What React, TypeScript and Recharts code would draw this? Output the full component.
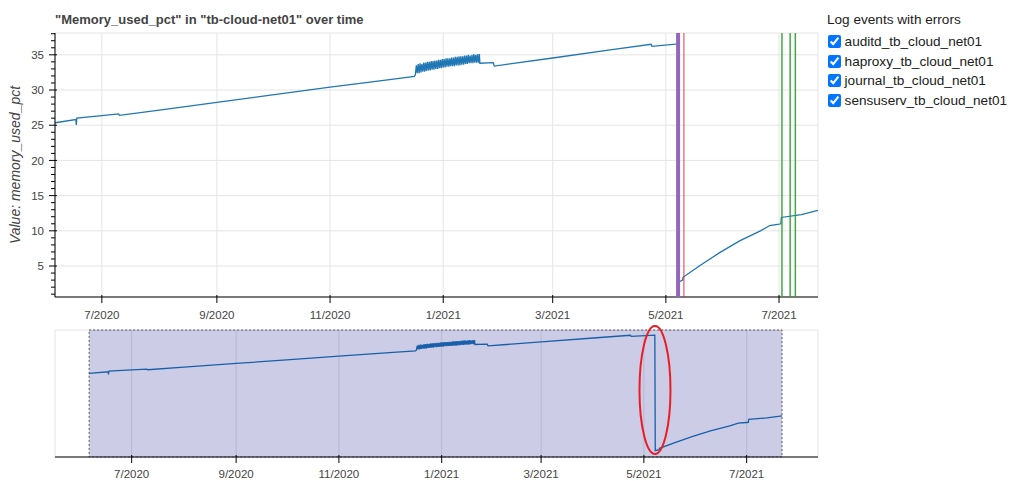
import {
  LineChart, Line, XAxis, YAxis, CartesianGrid, ReferenceLine, ReferenceArea, ReferenceDot,
} from 'recharts'

// ==================== Data ====================

const HOST = 'tb-cloud-net01'
const METRIC = 'Memory_used_pct'

// memory_used_pct readings up to the noisy stretch around new year
const beforeBand: Array<[string, number]> = [
  ['2020-06-05T18', 25.35],
  ['2020-06-17T00', 25.8],
  ['2020-06-17T06', 25.05],
  ['2020-06-17T12', 26.0],
  ['2020-07-01T00', 26.35],
  ['2020-07-10T00', 26.6],
  ['2020-07-10T12', 26.4],
  ['2020-08-01T00', 27.15],
  ['2020-09-01T00', 28.25],
  ['2020-10-01T00', 29.3],
  ['2020-11-01T00', 30.4],
  ['2020-12-01T00', 31.4],
  ['2020-12-16T12', 31.95],
]

// the oscillating part: one low (00h) and one high (12h) reading per day
const bandDays = [
  '2020-12-17', '2020-12-18', '2020-12-19', '2020-12-20', '2020-12-21', '2020-12-22', '2020-12-23',
  '2020-12-24', '2020-12-25', '2020-12-26', '2020-12-27', '2020-12-28', '2020-12-29', '2020-12-30',
  '2020-12-31', '2021-01-01', '2021-01-02', '2021-01-03', '2021-01-04', '2021-01-05', '2021-01-06',
  '2021-01-07', '2021-01-08', '2021-01-09', '2021-01-10', '2021-01-11', '2021-01-12', '2021-01-13',
  '2021-01-14', '2021-01-15', '2021-01-16', '2021-01-17', '2021-01-18', '2021-01-19', '2021-01-20',
]
const bandLow = [
  32.2, 32.4, 32.4, 32.5, 32.6, 32.6, 32.7, 32.8, 32.8, 32.9, 32.9, 33.0, 33.0, 33.1, 33.1, 33.2, 33.2,
  33.3, 33.3, 33.4, 33.4, 33.4, 33.5, 33.5, 33.5, 33.6, 33.6, 33.7, 33.7, 33.8, 33.8, 33.8, 33.9, 33.9, 33.9,
]
const bandHigh = [
  33.5, 33.7, 33.8, 33.7, 33.9, 33.9, 34.0, 34.0, 34.1, 34.1, 34.2, 34.2, 34.3, 34.3, 34.4, 34.4, 34.5,
  34.5, 34.5, 34.6, 34.6, 34.7, 34.7, 34.8, 34.8, 34.8, 34.9, 34.9, 35.0, 34.9, 35.0, 35.1, 35.0, 35.1, 35.1,
]

// after the band, through the reboot drop in May, to the end
const afterBand: Array<[string, number]> = [
  ['2021-01-20T18', 33.8],
  ['2021-01-28T00', 33.9],
  ['2021-01-28T12', 33.4],
  ['2021-03-01T00', 34.55],
  ['2021-04-01T00', 35.7],
  ['2021-04-23T00', 36.5],
  ['2021-04-23T12', 36.2],
  ['2021-05-07T12', 36.55],
  ['2021-05-07T18', 2.7],
  ['2021-05-10T00', 3.0],
  ['2021-05-10T06', 3.4],
  ['2021-05-19T00', 5.0],
  ['2021-05-30T00', 6.9],
  ['2021-06-10T00', 8.6],
  ['2021-06-21T00', 10.0],
  ['2021-06-26T00', 10.75],
  ['2021-07-01T00', 10.95],
  ['2021-07-02T00', 11.0],
  ['2021-07-02T06', 11.9],
  ['2021-07-13T00', 12.3],
  ['2021-07-22T00', 12.9],
]

// error events per log source
const eventSources = [
  { name: 'auditd_tb_cloud_net01', color: '#9467bd', width: 4, opacity: 1, times: ['2021-05-07T14'] },
  { name: 'haproxy_tb_cloud_net01', color: '#d62728', width: 1.5, opacity: 0.6, times: ['2021-05-10T17'] },
  { name: 'journal_tb_cloud_net01', color: '#2ca02c', width: 1.5, opacity: 0.9, times: ['2021-07-02T14', '2021-07-07T00'] },
  { name: 'sensuserv_tb_cloud_net01', color: '#2ca02c', width: 1.5, opacity: 0.9, times: ['2021-07-09T19'] },
]

const monthTicks = ['2020-07-01', '2020-09-01', '2020-11-01', '2021-01-01', '2021-03-01', '2021-05-01', '2021-07-01']
const yMajorTicks = [5, 10, 15, 20, 25, 30, 35]

const mainYDomain: [number, number] = [0.6, 38.1]
const overviewYDomain: [number, number] = [0.85, 38.05]
const overviewXRange = ['2020-05-16T12', '2021-08-12T08']

// the drop that is circled on the overview
const circledDrop = { time: '2021-05-07T14', value: 20.5 }

// ==================== Build ====================

const ts = (s: string) => Date.parse(s.length > 10 ? `${s}:00Z` : `${s}T00:00Z`)

const series = [
  ...beforeBand.map(([d, v]) => ({ time: ts(d), value: v })),
  ...bandDays.flatMap((d, i) => [
    { time: ts(d + 'T00'), value: bandLow[i] },
    { time: ts(d + 'T12'), value: bandHigh[i] },
  ]),
  ...afterBand.map(([d, v]) => ({ time: ts(d), value: v })),
]

const dataStart = series[0].time
const dataEnd = series[series.length - 1].time
const monthTimes = monthTicks.map(ts)
const yAllTicks = Array.from({ length: 38 }, (_, i) => i + 1)

const FONT = '"Liberation Sans", Arial, Helvetica, sans-serif'
const GRID = '#e5e5e5'
const LABEL = '#444'

function monthLabel(t: number): string {
  const d = new Date(t)
  return `${d.getUTCMonth() + 1}/${d.getUTCFullYear()}`
}

// ==================== Ticks ====================

function TimeTick({ x, y, payload, labelOffset }: any) {
  return (
    <g>
      <line x1={x} x2={x} y1={y - 2} y2={y + 6} stroke="#000" />
      <text x={x} y={y + labelOffset} textAnchor="middle" fontSize={11.5} fill={LABEL} fontFamily={FONT}>
        {monthLabel(payload.value)}
      </text>
    </g>
  )
}

function ValueTick({ x, y, payload }: any) {
  const major = payload.value % 5 === 0
  return (
    <g>
      <line x1={x - (major ? 6 : 4)} x2={x + (major ? 2 : 0)} y1={y} y2={y} stroke="#000" />
      {major && (
        <text x={x - 11} y={y} dy="0.36em" textAnchor="end" fontSize={11.5} fill={LABEL} fontFamily={FONT}>
          {payload.value}
        </text>
      )}
    </g>
  )
}

function YTitle({ viewBox }: any) {
  const cx = viewBox.x + 5
  const cy = viewBox.y + viewBox.height / 2
  return (
    <text
      x={cx} y={cy} transform={`rotate(-90 ${cx} ${cy})`} textAnchor="middle" dominantBaseline="central"
      fontSize={14} fontStyle="italic" fill={LABEL} fontFamily={FONT}
    >
      Value: memory_used_pct
    </text>
  )
}

// ==================== Component ====================

export default function App() {
  return (
    <div style={{ position: 'absolute', left: 0, top: 0, width: 1010, height: 481, background: '#fff', fontFamily: FONT }}>
      <div style={{
        position: 'absolute', left: 55, top: 11, fontSize: 13, fontWeight: 'bold', color: LABEL,
        lineHeight: '18px', whiteSpace: 'nowrap',
      }}>
        "{METRIC}" in "{HOST}" over time
      </div>

      {/* Main chart */}
      <div style={{ position: 'absolute', left: 0, top: 0 }}>
        <LineChart width={820} height={330} data={series} margin={{ top: 33, right: 2, bottom: 3, left: 10 }}>
          <CartesianGrid stroke={GRID} horizontalValues={yMajorTicks} verticalValues={monthTimes} />
          <ReferenceArea
            x1={dataStart} x2={dataEnd} y1={mainYDomain[0]} y2={mainYDomain[1]}
            fill="none" stroke={GRID} ifOverflow="visible"
          />
          <XAxis
            dataKey="time" type="number" domain={[dataStart, dataEnd]} allowDataOverflow
            ticks={monthTimes} interval={0} tickSize={0} tickMargin={0} tickLine={false}
            tick={(p: any) => <TimeTick {...p} labelOffset={21.5} />}
            axisLine={{ stroke: '#000' }} height={30}
          />
          <YAxis
            type="number" domain={mainYDomain} allowDataOverflow
            ticks={yAllTicks} interval={0} tickSize={0} tickMargin={0} tickLine={false}
            tick={(p: any) => <ValueTick {...p} />}
            axisLine={{ stroke: '#000' }} width={45}
            label={{ content: (p: any) => <YTitle {...p} /> }}
          />
          <Line
            dataKey="value" stroke="#1f77b4" strokeWidth={1.3} dot={false}
            isAnimationActive={false}
          />
          {eventSources.flatMap(src => src.times.map(t => (
            <ReferenceLine
              key={src.name + t} x={ts(t)} stroke={src.color} strokeWidth={src.width}
              strokeOpacity={src.opacity} zIndex={900}
            />
          )))}
        </LineChart>
      </div>

      {/* Overview with range selection */}
      <div style={{ position: 'absolute', left: 0, top: 325 }}>
        <LineChart width={820} height={156} data={series} margin={{ top: 5, right: 2, bottom: 0, left: 55 }}>
          <CartesianGrid stroke={GRID} horizontal={false} verticalValues={monthTimes} />
          <ReferenceArea
            x1={ts(overviewXRange[0])} x2={ts(overviewXRange[1])} y1={overviewYDomain[0]} y2={overviewYDomain[1]}
            fill="none" stroke={GRID} ifOverflow="visible"
          />
          <XAxis
            dataKey="time" type="number" domain={overviewXRange.map(ts)} allowDataOverflow
            ticks={monthTimes} interval={0} tickSize={0} tickMargin={0} tickLine={false}
            tick={(p: any) => <TimeTick {...p} labelOffset={20.5} />}
            axisLine={{ stroke: '#000' }} height={24}
          />
          <YAxis hide type="number" domain={overviewYDomain} allowDataOverflow />
          <Line
            dataKey="value" stroke="#1f77b4" strokeWidth={1.3} dot={false}
            isAnimationActive={false}
          />
          <ReferenceArea
            x1={dataStart} x2={dataEnd} fill="#000080" fillOpacity={0.2}
            stroke="#333" strokeWidth={0.8} strokeDasharray="2 2" zIndex={1000}
          />
          <ReferenceDot
            x={ts(circledDrop.time)} y={circledDrop.value} ifOverflow="visible" zIndex={1100}
            shape={(p: any) => (
              <ellipse cx={p.cx} cy={p.cy} rx={15.5} ry={64} fill="none" stroke="#ec1c24" strokeWidth={2} />
            )}
          />
        </LineChart>
      </div>

      {/* Log event checkboxes */}
      <div style={{ position: 'absolute', left: 827, top: 9, fontSize: 13.6, color: '#212121', whiteSpace: 'nowrap' }}>
        <div style={{ height: 22, lineHeight: '22px', marginBottom: 1 }}>Log events with errors</div>
        {eventSources.map(src => (
          <label key={src.name} style={{ display: 'flex', alignItems: 'center', height: 19.5 }}>
            <input
              type="checkbox" checked readOnly
              style={{ margin: '0 3.3px 0 1.3px', width: 13, height: 13 }}
            />
            {src.name}
          </label>
        ))}
      </div>
    </div>
  )
}
